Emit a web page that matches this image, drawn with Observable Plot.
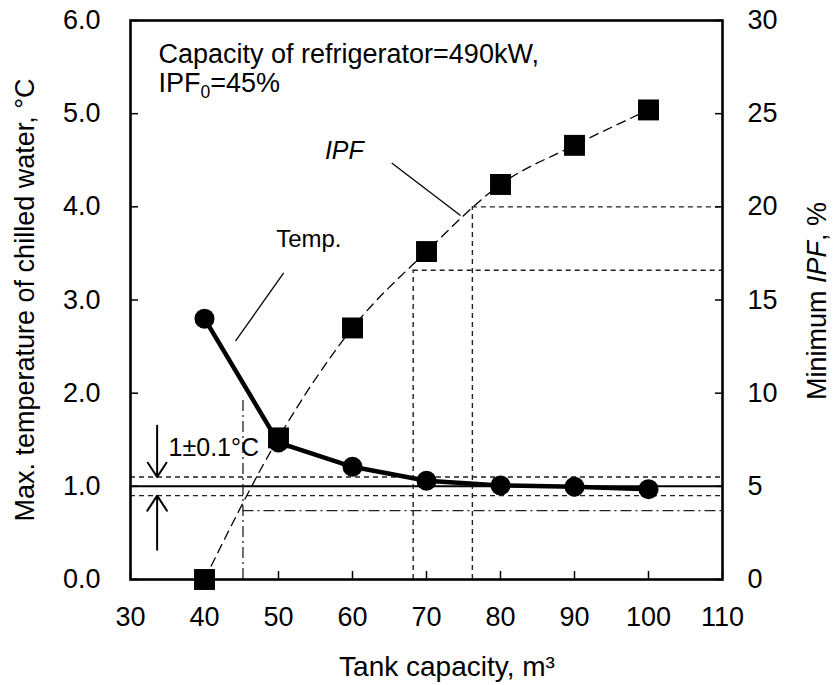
<!DOCTYPE html>
<html><head><meta charset="utf-8">
<script src="https://cdn.jsdelivr.net/npm/d3@7"></script>
<script src="https://cdn.jsdelivr.net/npm/@observablehq/plot@0.6"></script>
<style>html,body{margin:0;padding:0;background:#fff} svg{display:block}</style>
</head><body><div id="chart"></div>
<script>
// ---- data ----
const tankCapacity = [40, 50, 60, 70, 80, 90, 100];          // m3
const maxTemp      = [2.8, 1.47, 1.21, 1.06, 1.01, 0.995, 0.97]; // °C (left axis)
const minIPF       = [0, 7.6, 13.5, 17.6, 21.2, 23.3, 25.2];  // % (right axis)
const xTicks   = [30, 40, 50, 60, 70, 80, 90, 100, 110];
const tempTicks = [0, 1, 2, 3, 4, 5, 6];
const ipfTicks  = [0, 5, 10, 15, 20, 25, 30];
const ipfPerTemp = 5;                        // 30 % on the right = 6 °C on the left
const tolerance = [0.9, 1.0, 1.1];           // 1 ± 0.1 °C band
const requiredTank = [45.2, 68.2, 76.2];     // read-off tank capacities
const requiredIPF  = [3.7, 16.6, 20.0];      // matching IPF, %
const requiredTop  = [1.94, 3.32, 4.0];      // top of each vertical guide (°C units)

const rows = tankCapacity.map((t, i) => ({tank: t, temp: maxTemp[i], ipf: minIPF[i] / ipfPerTemp}));

// annotation anchors (data units)
const tempLeader = [{x1: 50.7, y1: 3.29, x2: 44.2, y2: 2.56}];
const ipfLeader  = [{x1: 65.3, y1: 4.47, x2: 74.6, y2: 3.906}];
const bandArrows = [{x1: 33.6, y1: 1.65, x2: 33.6, y2: 1.1}, {x1: 33.6, y1: 0.32, x2: 33.6, y2: 0.9}];
const conditionNote = "Capacity of refrigerator=490kW,\nIPF_{0}=45%";

const FONT = "'Liberation Sans', Arial, Helvetica, sans-serif";
const ink = "#000";
const dash = "#222";

const plot = Plot.plot({
  width: 840, height: 685,
  marginLeft: 130, marginRight: 118, marginTop: 20, marginBottom: 106,
  style: {fontFamily: FONT, background: "#fff", color: ink, overflow: "visible"},
  x: {domain: [30, 110]},
  y: {domain: [0, 6]},
  marks: [
    // tolerance band lines
    Plot.ruleY(tolerance.filter(d => d !== 1), {y: d => d, stroke: dash, strokeWidth: 1.4, strokeDasharray: "5,4"}),
    Plot.ruleY(tolerance.filter(d => d === 1), {y: d => d, stroke: ink, strokeWidth: 2}),
    // dash-dot guide (first required tank)
    Plot.ruleX([0], {x: i => requiredTank[i], y1: 0, y2: i => requiredTop[i], stroke: dash, strokeWidth: 1.3, strokeDasharray: "11,4,2,4"}),
    Plot.ruleY([0], {y: i => requiredIPF[i] / ipfPerTemp, x1: i => requiredTank[i], x2: 110, stroke: dash, strokeWidth: 1.3, strokeDasharray: "11,4,2,4"}),
    // dashed guides
    Plot.ruleX([1, 2], {x: i => requiredTank[i], y1: 0, y2: i => requiredTop[i], stroke: dash, strokeWidth: 1.4, strokeDasharray: "5,4"}),
    Plot.ruleY([1, 2], {y: i => requiredIPF[i] / ipfPerTemp, x1: i => requiredTank[i], x2: 110, stroke: dash, strokeWidth: 1.4, strokeDasharray: "5,4"}),
    // IPF dashed curve
    Plot.line(rows, {x: "tank", y: "ipf", curve: "monotone-x", stroke: ink, strokeWidth: 1.3, strokeDasharray: "9,6"}),
    // frame
    Plot.frame({stroke: ink, strokeWidth: 2.6}),
    // temperature line + circles
    Plot.line(rows, {x: "tank", y: "temp", stroke: ink, strokeWidth: 4.5}),
    Plot.dot(rows, {x: "tank", y: "temp", r: 10, fill: ink}),
    // IPF squares
    Plot.dot(rows, {x: "tank", y: "ipf", symbol: "square", r: 11.8, fill: ink}),
    // annotations
    Plot.link(tempLeader, {x1: "x1", y1: "y1", x2: "x2", y2: "y2", stroke: ink, strokeWidth: 1.3}),
    Plot.link(ipfLeader, {x1: "x1", y1: "y1", x2: "x2", y2: "y2", stroke: ink, strokeWidth: 1.3}),
    Plot.arrow(bandArrows, {x1: "x1", y1: "y1", x2: "x2", y2: "y2", stroke: ink, strokeWidth: 2, headLength: 14, headAngle: 66}),
    Plot.text(["Temp."], {x: 54.1, y: 3.57, text: d => d, textAnchor: "middle", lineAnchor: "bottom", fontSize: 24, fill: ink}),
    Plot.text(["IPF"], {x: 58.9, y: 4.517, text: d => d, textAnchor: "middle", lineAnchor: "bottom", fontSize: 25, fontStyle: "italic", fill: ink}),
    Plot.text(["1±0.1°C"], {x: 35.15, y: 1.33, text: d => d, textAnchor: "start", lineAnchor: "bottom", fontSize: 25, fill: ink}),
    Plot.text([conditionNote], {x: 33.78, y: 5.236, text: d => d, textAnchor: "start", lineAnchor: "bottom", lineHeight: 1.074, fontSize: 27, fill: ink}),
    // axes: labels
    Plot.axisX({ticks: xTicks, anchor: "bottom", tickSize: 0, tickPadding: 27, fontSize: 27, label: null}),
    Plot.axisY({ticks: tempTicks, anchor: "left", tickSize: 0, tickPadding: 30, fontSize: 27, tickFormat: d3.format(".1f"), label: null}),
    Plot.axisY({ticks: ipfTicks.map(v => v / ipfPerTemp), anchor: "right", tickSize: 0, tickPadding: 25, fontSize: 27, tickFormat: d => String(Math.round(d * ipfPerTemp)), label: null}),
    // axes: inward ticks
    Plot.axisX({ticks: xTicks, anchor: "bottom", tickSize: -8, strokeWidth: 1.5, tickFormat: () => "", label: null}),
    Plot.axisY({ticks: tempTicks, anchor: "left", tickSize: -8, strokeWidth: 1.5, tickFormat: () => "", label: null}),
    Plot.axisY({ticks: ipfTicks.map(v => v / ipfPerTemp), anchor: "right", tickSize: -8, strokeWidth: 1.5, tickFormat: () => "", label: null})
  ]
});

// axis titles
const svg = d3.select(plot);
svg.append("text").attr("transform", "translate(34,300) rotate(-90)").attr("text-anchor", "middle")
  .attr("font-size", 27).attr("fill", ink).text("Max. temperature of chilled water, °C");
svg.append("text").attr("transform", "translate(826,301) rotate(-90)").attr("text-anchor", "middle")
  .attr("font-size", 27).attr("fill", ink).text("Minimum *IPF*, %");
svg.append("text").attr("x", 447).attr("y", 676).attr("text-anchor", "middle")
  .attr("font-size", 28).attr("fill", ink).text("Tank capacity, m³");

// rich text: _{sub} and *italic*, applied to every leaf text/tspan
function richify(el) {
  const s = el.textContent;
  if (!/_\{|\*/.test(s)) return;
  const parts = s.split(/(_\{[^}]*\}|\*[^*]+\*)/).filter(p => p);
  while (el.firstChild) el.removeChild(el.firstChild);
  let shifted = false;
  for (const p of parts) {
    const t = document.createElementNS("http://www.w3.org/2000/svg", "tspan");
    if (p.startsWith("_{")) {
      t.textContent = p.slice(2, -1);
      t.setAttribute("font-size", "65%");
      t.setAttribute("dy", "6");
      shifted = true;
    } else {
      if (p.startsWith("*")) { t.textContent = p.slice(1, -1); t.setAttribute("font-style", "italic"); }
      else t.textContent = p;
      if (shifted) { t.setAttribute("dy", "-6"); shifted = false; }
    }
    el.appendChild(t);
  }
}
plot.querySelectorAll("text").forEach(el => {
  const lines = el.querySelectorAll(":scope > tspan");
  if (lines.length) lines.forEach(richify); else richify(el);
});
document.getElementById("chart").appendChild(plot);
</script>
</body></html>
